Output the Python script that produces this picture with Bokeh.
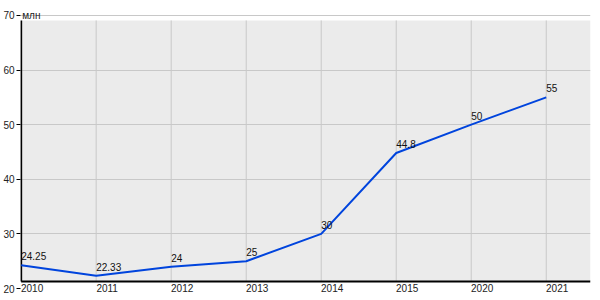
from bokeh.plotting import figure
from bokeh.models import FixedTicker, Range1d
from bokeh.core.properties import value
from bokeh.embed import file_html
from bokeh.resources import INLINE

years = ["2010", "2011", "2012", "2013", "2014", "2015", "2020", "2021"]
values = [24.25, 22.33, 24, 25, 30, 44.8, 50, 55]
value_labels = ["24.25", "22.33", "24", "25", "30", "44.8", "50", "55"]
y_ticks = [20, 30, 40, 50, 60, 70]
unit = "млн"

xs = list(range(len(years)))
FONT = "Liberation Sans"

x_start = -0.009
x_end = 7.59
y_bottom_bg = 21.28
y_top_bg = 69.08
label_shift = 0.146  # x labels start at their tick (left-aligned look)

p = figure(frame_width=570, frame_height=284,
           min_border_left=20, min_border_right=10,
           min_border_top=4, min_border_bottom=12,
           x_range=Range1d(x_start, x_end), y_range=Range1d(20, 72),
           output_backend="svg", toolbar_location=None,
           background_fill_color="white", border_fill_color="white")
p.outline_line_color = None
p.extra_x_ranges = {"lab": Range1d(x_start - label_shift, x_end - label_shift)}

# plot background
bg = p.quad(left=[0], right=[x_end], bottom=[y_bottom_bg], top=[y_top_bg],
            fill_color="#ebebeb", line_color=None)
bg.level = "image"

# grids
p.xgrid.visible = False
p.ygrid.ticker = FixedTicker(ticks=y_ticks)
p.ygrid.grid_line_color = "#c8c8c8"
p.ygrid.grid_line_width = 1

p.segment(x0=xs[1:], x1=xs[1:], y0=[y_bottom_bg] * (len(xs) - 1),
          y1=[y_top_bg] * (len(xs) - 1), line_color="#c8c8c8", line_width=1)

# axis lines
p.segment(x0=[0, 0], x1=[x_end, 0], y0=[y_bottom_bg, y_bottom_bg],
          y1=[y_bottom_bg, y_top_bg], line_color="black", line_width=2)

# y axis
p.yaxis.ticker = FixedTicker(ticks=y_ticks)
p.yaxis.axis_line_color = None
p.yaxis.minor_tick_line_color = None
p.yaxis.major_tick_in = 0
p.yaxis.major_tick_out = 4
p.yaxis.major_tick_line_color = "black"
p.yaxis.major_label_standoff = 2
p.yaxis.major_label_text_font = FONT
p.yaxis.major_label_text_font_size = "10px"
p.yaxis.major_label_text_color = "#222222"

# x axis
p.xaxis.x_range_name = "lab"
p.xaxis.ticker = FixedTicker(ticks=xs)
p.xaxis.major_label_overrides = {i: y for i, y in enumerate(years)}
p.xaxis.axis_line_color = None
p.xaxis.major_tick_line_color = None
p.xaxis.major_tick_in = 0
p.xaxis.major_tick_out = 0
p.xaxis.minor_tick_line_color = None
p.xaxis.minor_tick_in = 0
p.xaxis.minor_tick_out = 0
p.xaxis.major_label_standoff = -5
p.xaxis.major_label_text_font = FONT
p.xaxis.major_label_text_font_size = "10px"
p.xaxis.major_label_text_color = "#222222"

# line
p.line(xs, values, line_color="#0044dd", line_width=2)

# value labels
p.text(x=xs, y=values, text=value_labels, x_offset=0, y_offset=-5,
       text_align="left", text_baseline="bottom",
       text_font=value(FONT), text_font_size="10px", text_color="#111111")

# unit label
p.text(x=[0], y=[70], text=[unit], x_offset=1, y_offset=0,
       text_align="left", text_baseline="alphabetic",
       text_font=value(FONT), text_font_size="10px", text_color="#222222")

open("out.html", "w").write(file_html(p, INLINE))
